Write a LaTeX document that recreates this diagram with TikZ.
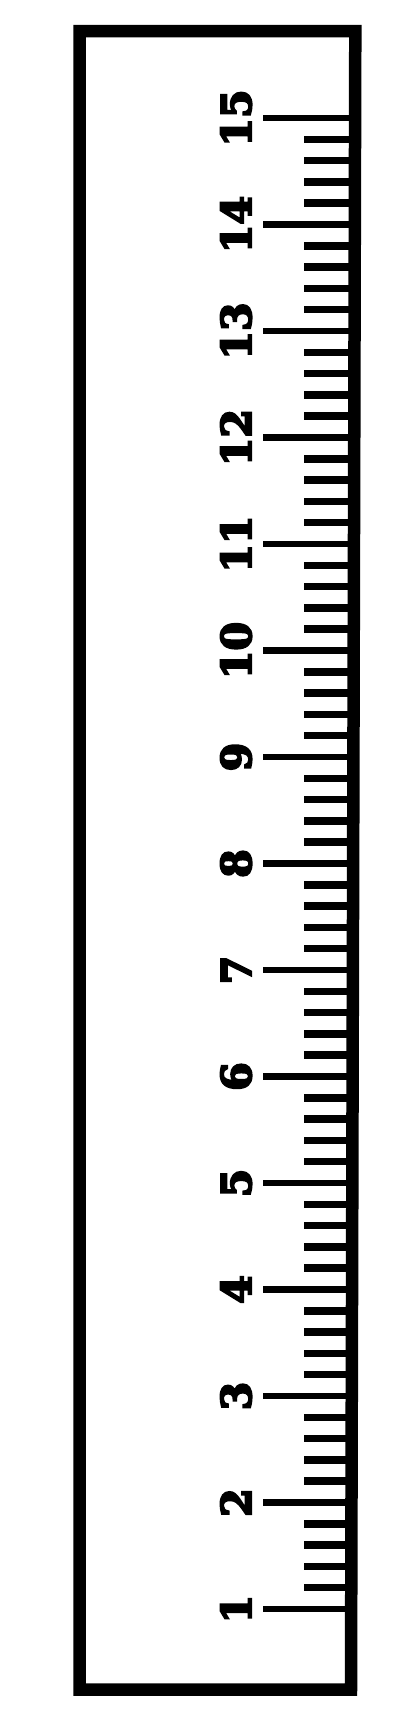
\documentclass[tikz,border=0pt]{standalone}
\usepackage{fontspec}
\setmainfont{DejaVu Serif}
\newfontfamily\rulerfont[FakeBold=5]{DejaVu Serif Bold}

\begin{document}
\begin{tikzpicture}[
    x=1pt, y=-1pt,
    frame/.style={draw=black, line width=12.5pt, line join=miter},
    majortick/.style={draw=black, line width=6.5pt},
    minortick/.style={draw=black, line width=7.5pt},
    numlabel/.style={rotate=90, anchor=base, inner sep=0pt, font=\fontsize{41}{41}\rulerfont}
]
\useasboundingbox (0,0) rectangle (416,1727);

% Ruler body
\draw[frame] (79.5,31) -- (355.3,31) -- (351,1689.5) -- (79.5,1689.5) -- cycle;

% Centimetre marks and numbers
\foreach \n in {1,...,15} {
    \coordinate (t\n) at (263,{1609-(\n-1)*106.5});
    \coordinate (e\n) at (351,{1609-(\n-1)*106.5});
    \draw[majortick] (t\n) -- (e\n);
    \node[numlabel] (n\n) at (251,{1609-(\n-1)*106.5}) {\n};
}

% Millimetre-ish marks
\foreach \n in {1,...,14} {
    \foreach \k in {1,...,4} {
        \coordinate (s\n-\k) at (304,{1609-(\n-1)*106.5-\k*21.3});
        \coordinate (f\n-\k) at (351,{1609-(\n-1)*106.5-\k*21.3});
        \draw[minortick] (s\n-\k) -- (f\n-\k);
    }
}

\end{tikzpicture}
\end{document}
